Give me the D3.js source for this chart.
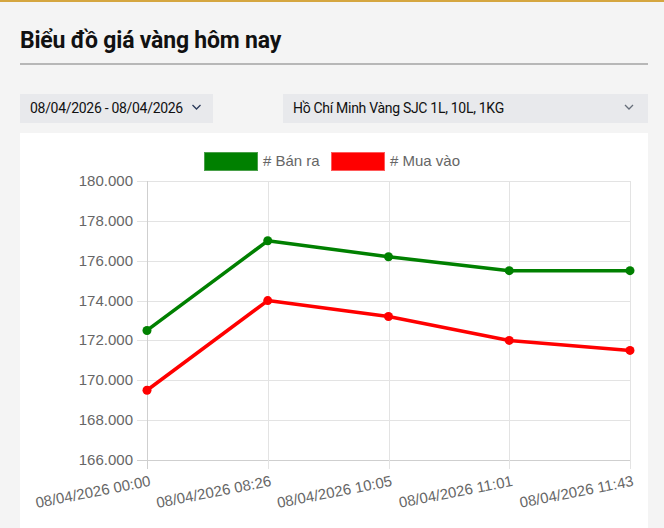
<!DOCTYPE html>
<html><head><meta charset="utf-8">
<script src="https://cdn.jsdelivr.net/npm/d3@7"></script>
<style>
html,body{margin:0;padding:0;background:#f4f4f4;}
svg{display:block;}
</style></head>
<body>
<script>
const categories = ["08/04/2026 00:00","08/04/2026 08:26","08/04/2026 10:05","08/04/2026 11:01","08/04/2026 11:43"];
const banRa = [172.5, 177.0, 176.2, 175.5, 175.5];
const muaVao = [169.5, 174.0, 173.2, 172.0, 171.5];
const yTicks = [166, 168, 170, 172, 174, 176, 178, 180];
const seriesNames = ["# Bán ra", "# Mua vào"];
const seriesColors = ["#008000", "#ff0000"];
const title = "Biểu đồ giá vàng hôm nay";
const dateRange = "08/04/2026 - 08/04/2026";
const product = "Hồ Chí Minh Vàng SJC 1L, 10L, 1KG";

const W = 664, H = 528;
const svg = d3.select("body").append("svg").attr("width", W).attr("height", H);
svg.append("rect").attr("width", W).attr("height", H).attr("fill", "#f4f4f4");
svg.append("rect").attr("x",0).attr("y",0).attr("width",W).attr("height",2).attr("fill","#d5a640");

// Title
svg.append("text").attr("x", 20).attr("y", 48).text(title)
  .attr("font-family","Roboto").attr("font-weight","700").attr("font-size",23)
  .attr("letter-spacing",-0.2).attr("fill","#111");
svg.append("rect").attr("x",20).attr("y",63.5).attr("width",628).attr("height",1).attr("fill","#7a7a7a");

// Dropdowns
function chevron(cx, cy, color){
  svg.append("path").attr("d",`M${cx-4},${cy-2} L${cx},${cy+2} L${cx+4},${cy-2}`)
    .attr("fill","none").attr("stroke",color).attr("stroke-width",1.3);
}
svg.append("rect").attr("x",20).attr("y",94).attr("width",193).attr("height",29).attr("fill","#e8e9ec");
svg.append("text").attr("x",30).attr("y",113).text(dateRange)
  .attr("font-family","Roboto").attr("font-size",14).attr("letter-spacing",-0.3).attr("fill","#111");
chevron(196.5, 107, "#2a3a5a");
svg.append("rect").attr("x",283).attr("y",94).attr("width",365).attr("height",29).attr("fill","#e8e9ec");
svg.append("text").attr("x",293).attr("y",113).text(product)
  .attr("font-family","Roboto").attr("font-size",14).attr("letter-spacing",-0.3).attr("fill","#111");
chevron(629, 107, "#666e7a");

// Chart panel
svg.append("rect").attr("x",20).attr("y",133).attr("width",628).attr("height",H-133).attr("fill","#fff");

const x = d3.scalePoint().domain(categories).range([147, 630]);
const y = d3.scaleLinear().domain([166, 180]).range([460, 181]);
const FONT = "'Liberation Sans', Arial, Helvetica, sans-serif";

const g = svg.append("g");
g.selectAll(".hg").data(yTicks).enter().append("line")
  .attr("x1",137).attr("x2",630).attr("y1",d=>Math.round(y(d))+0.5).attr("y2",d=>Math.round(y(d))+0.5)
  .attr("stroke",d=>d===166?"#cfcfcf":"#e3e3e3").attr("stroke-width",1);
g.selectAll(".vg").data(categories).enter().append("line")
  .attr("x1",d=>Math.round(x(d))+0.5).attr("x2",d=>Math.round(x(d))+0.5)
  .attr("y1",181).attr("y2",469)
  .attr("stroke",(d,i)=>i===0?"#cfcfcf":"#e3e3e3").attr("stroke-width",1);

g.selectAll(".yl").data(yTicks).enter().append("text")
  .attr("x",133).attr("y",d=>y(d)+5).attr("text-anchor","end")
  .attr("font-family",FONT).attr("font-size",15).attr("fill","#666")
  .text(d=>d3.format(".3f")(d));

g.selectAll(".xl").data(categories).enter().append("text")
  .attr("transform",d=>`translate(${x(d)+2},${474}) rotate(-11)`)
  .attr("text-anchor","end").attr("dy","0.8em")
  .attr("font-family",FONT).attr("font-size",15).attr("fill","#666")
  .text(d=>d);

const line = d3.line().x((d,i)=>x(categories[i])).y(d=>y(d));
[banRa, muaVao].forEach((s, k)=>{
  svg.append("path").datum(s).attr("d", line).attr("fill","none")
    .attr("stroke",seriesColors[k]).attr("stroke-width",3.5).attr("stroke-linejoin","round");
  svg.selectAll(null).data(s).enter().append("circle")
    .attr("cx",(d,i)=>x(categories[i])).attr("cy",d=>y(d)).attr("r",4.5)
    .attr("fill",seriesColors[k]);
});

const legX = [204, 331];
seriesNames.forEach((n,k)=>{
  svg.append("rect").attr("x",legX[k]+0.5).attr("y",152.5).attr("width",53).attr("height",18)
    .attr("fill",seriesColors[k]).attr("stroke", k===0?"#4aa04a":"#ff5a5a").attr("stroke-width",1);
  svg.append("text").attr("x",legX[k]+59).attr("y",166).text(n)
    .attr("font-family",FONT).attr("font-size",15).attr("fill","#666");
});
</script>
</body></html>
